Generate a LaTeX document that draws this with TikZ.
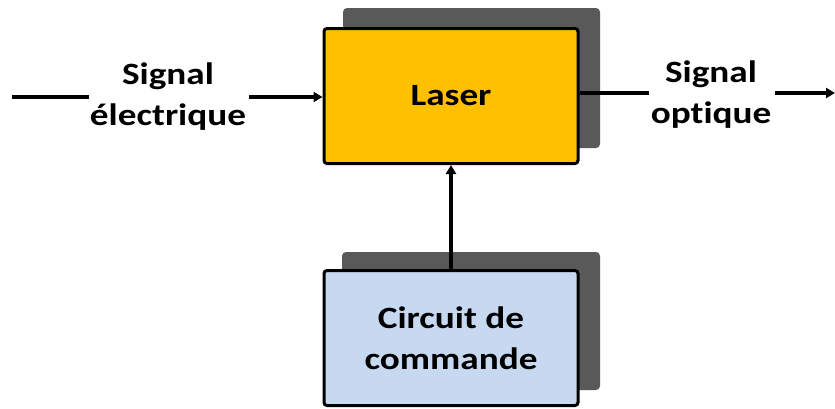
\documentclass[tikz,border=0pt]{standalone}
\usepackage{fontspec}
\setmainfont{Carlito}[FakeStretch=1.2,RawFeature=-liga]
\usetikzlibrary{arrows.meta}
\definecolor{laserfill}{HTML}{FFC000}
\definecolor{shadowgray}{HTML}{595959}
\definecolor{cmdfill}{HTML}{C6D9F1}
\begin{document}
\begin{tikzpicture}[x=1pt,y=-1pt,
  blockbox/.style={draw=black,line width=3pt,rounded corners=3pt,minimum width=254pt,minimum height=135pt,inner sep=0pt,font=\fontsize{31}{41}\selectfont\bfseries,align=center},
  lbl/.style={font=\fontsize{31}{41}\selectfont\bfseries,align=center,inner sep=0pt},
  wire/.style={line width=4pt},
  arr/.style={line width=4pt,-{Triangle[length=9pt,width=10pt]}}]
\useasboundingbox (0,0) rectangle (835,408);
% shadows
\fill[shadowgray,rounded corners=4pt] (343,8) rectangle (600,148);
\fill[shadowgray,rounded corners=4pt] (342,252) rectangle (600,390);
% blocks
\node[blockbox,fill=laserfill] (laser) at (451,96) {Laser};
\node[blockbox,fill=cmdfill] (cmd) at (451,338) {Circuit de\\commande};
% labels
\node[lbl] (sigE) at (168,97) {Signal\\électrique};
\node[lbl] (sigO) at (711,95) {Signal\\optique};
\coordinate (inStart) at (12,97);
\coordinate (outEnd) at (835,93);
% connectors
\draw[wire] (inStart) -- ([xshift=-1pt]sigE.west |- inStart);
\draw[arr] ([xshift=3pt]sigE.east |- inStart) -- (laser.west |- inStart);
\draw[wire] (laser.east |- outEnd) -- ([xshift=-2pt]sigO.west |- outEnd);
\draw[arr] ([xshift=4pt]sigO.east |- outEnd) -- (outEnd);
\draw[arr] (cmd.north) -- (laser.south);
\end{tikzpicture}
\end{document}
